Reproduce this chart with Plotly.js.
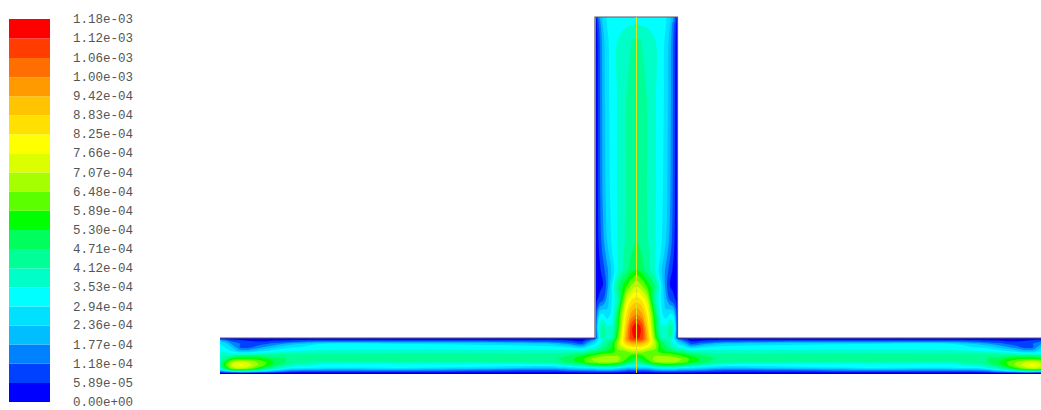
<!DOCTYPE html>
<html><head><meta charset="utf-8">
<script src="https://cdn.plot.ly/plotly-3.0.1.min.js"></script>
<style>html,body{margin:0;padding:0;background:#fff}#c{width:1041px;height:410px}</style></head>
<body><div id="c"></div>
<script>
// legend, top to bottom
const legendLabels=["1.18e-03","1.12e-03","1.06e-03","1.00e-03","9.42e-04","8.83e-04","8.25e-04","7.66e-04","7.07e-04","6.48e-04","5.89e-04","5.30e-04","4.71e-04","4.12e-04","3.53e-04","2.94e-04","2.36e-04","1.77e-04","1.18e-04","5.89e-05","0.00e+00"];
const bandColors=["#ff0000","#ff3d00","#ff6e00","#ff9b00","#ffc400","#ffe000","#ffff00","#dcff00","#a5ff00","#5cff00","#00ff00","#00ff5c","#00ff96","#00ffc8","#00ffff","#00e1ff","#00beff","#0082ff","#0040ff","#0000ff"];

// field values in units of 1e-4; the picture is mirror-symmetric about the centre line
const centreX=636.5;
// riser (vertical leg): columns from the left wall to the centre
const riserX=[595.5,597,600,603,607,612,618,626,631,636.5];
const riserY=[17,25,40,100,200,240,255,270,285,300,315,328,338];
const riserRows=[
[0,.9,1.9,2.6,3.0,3.2,3.3,3.4,3.42,3.45],
[0,.6,1.5,2.4,2.95,3.15,3.3,3.45,3.5,3.58],
[0,.45,1.25,2.1,2.85,3.15,3.55,3.95,4.1,4.2],
[0,.4,1.18,2.0,2.75,3.2,3.6,4.12,4.3,4.4],
[0,.35,1.1,1.85,2.6,3.15,3.6,4.12,4.4,4.6],
[0,.3,.9,1.6,2.35,3.05,3.6,4.2,4.5,4.75],
[0,.3,.7,1.3,2.0,2.9,3.6,4.35,4.7,5.0],
[0,.3,.5,.9,1.6,2.5,3.6,4.5,5.0,5.4],
[0,.2,.4,.55,1.4,3.0,4.6,5.7,6.4,6.9],
[0,.55,.8,1.1,2.0,3.0,4.2,7.2,8.2,8.6],
[0,1.6,3.0,3.1,2.6,3.2,5.2,8.3,9.6,10.2],
[0,2.4,3.9,4.4,3.8,3.7,5.6,9.0,11.0,11.8],
[0,1.8,3.5,4.2,4.0,4.0,6.1,9.5,11.0,11.4]];
// main channel (horizontal leg): profiles from top wall to bottom wall
const channelY=[338,339.5,341.5,344,347,351,355,359,362,365,368,370,372,373];
const channelX=[220,222,226,232,240,248,256,265,275,290,320,400,545,560,570,582,590,595.5,597,600,603,607,612,618,626,631,636.5];
const channelCols=[
[0,1.5,2.6,3.0,3.2,3.4,3.6,3.6,3.8,3.8,3.5,2.6,1.0,0],
[0,1.2,2.3,2.8,3.1,3.5,3.8,4.2,4.6,4.8,4.4,3.2,1.1,0],
[0,.9,1.9,2.6,2.8,3.3,3.9,4.7,5.6,6.0,5.3,3.9,1.6,0],
[0,.6,1.2,1.7,2.3,2.9,3.9,5.6,6.9,7.2,6.8,5.1,2.0,0],
[0,.5,.9,1.2,1.1,2.1,4.3,5.9,7.2,7.9,7.3,5.5,2.2,0],
[0,.4,.7,.9,.9,2.1,4.4,5.9,7.0,7.4,6.9,5.3,2.1,0],
[0,.3,.6,.9,1.3,2.5,4.4,5.8,6.5,6.7,6.0,4.5,1.9,0],
[0,.3,.6,1.1,1.8,2.9,4.4,5.4,6.0,5.9,5.0,3.8,1.8,0],
[0,.35,.8,1.5,2.3,3.2,4.3,5.0,5.2,4.9,4.0,3.0,1.4,0],
[0,.4,1.0,2.1,2.8,3.5,4.4,4.6,4.5,4.0,3.2,2.0,.7,0],
[0,.5,1.4,3.0,3.2,3.65,4.4,4.55,4.15,3.35,2.9,1.7,.6,0],
[0,.5,1.4,3.0,3.25,3.75,4.45,4.5,4.12,3.4,2.94,1.77,.6,0],
[0,.5,1.2,2.6,3.1,3.7,4.5,4.6,4.3,3.3,2.2,1.2,.5,0],
[0,.45,1.0,2.1,3.0,3.7,4.6,4.75,4.5,3.5,2.4,1.4,.5,0],
[0,.4,.8,1.7,2.8,3.8,4.7,5.1,5.0,3.9,2.6,1.6,.6,0],
[0,.3,.6,1.2,2.4,3.8,5.2,5.7,5.6,4.4,2.8,1.7,.7,0],
[0,.9,1.7,2.4,3.2,4.3,5.6,6.4,6.3,4.9,3.0,1.8,.7,0],
[0,1.9,2.5,3.0,3.5,4.5,5.9,6.7,6.5,5.1,3.1,1.9,.8,0],
[1.8,2.6,2.9,3.2,3.7,4.7,6.0,6.8,6.6,5.2,3.2,2.0,.8,0],
[3.5,3.4,3.4,3.6,4.0,4.9,6.1,6.95,6.7,5.3,3.2,2.0,.8,0],
[4.2,4.0,4.0,4.1,4.4,5.1,6.2,7.0,6.7,5.3,3.2,2.0,.8,0],
[4.0,4.1,4.4,4.6,4.8,5.3,6.3,7.05,6.7,5.3,3.2,2.0,.8,0],
[4.0,4.3,4.9,5.2,5.3,5.5,6.3,7.0,6.6,5.2,3.2,2.0,.8,0],
[6.1,6.4,6.7,6.8,6.7,6.3,6.4,6.7,6.4,4.9,3.0,1.8,.7,0],
[9.5,9.5,9.1,8.6,7.7,6.5,6.0,5.9,5.4,3.9,2.4,1.4,.5,0],
[11.0,10.6,9.9,9.1,8.2,6.9,5.9,5.4,4.9,3.7,2.4,1.3,.5,0],
[11.4,11.0,10.2,9.3,8.3,7.0,5.7,5.0,4.2,3.4,2.4,1.3,.5,0]];
// outline of the geometry
const wallX=[220,595,595,677.5,677.5,1041], wallY=[338,338,17,17,338,338];
const floorX=[220,1041], floorY=[373.5,373.5];

const mirrorAxis=a=>a.concat(a.slice(0,-1).reverse().map(v=>2*centreX-v));
const mirrorRow=r=>r.concat(r.slice(0,-1).reverse());
const legendValues=legendLabels.map(s=>parseFloat(s));
const ascending=legendValues.slice().reverse();
const step=0.589, n=bandColors.length;
const bands=bandColors.slice().reverse();
// the contour fill samples the scale exactly at k/(n-1), so one stop per band gives the exact colour
const scale=bands.map((c,j)=>[j/(n-1),c]);

const contourStyle={type:'contour',colorscale:scale,showscale:false,hoverinfo:'skip',autocontour:false,
  contours:{coloring:'fill',showlines:false,start:step,end:step*(n-1),size:step},line:{width:0},xaxis:'x',yaxis:'y'};

const traces=[
 Object.assign({},contourStyle,{x:mirrorAxis(riserX),y:riserY,z:riserRows.map(mirrorRow)}),
 Object.assign({},contourStyle,{x:mirrorAxis(channelX),y:channelY,
   z:channelY.map((_,i)=>mirrorRow(channelCols.map(c=>c[i])))}),
 {type:'scatter',mode:'lines',x:wallX,y:wallY,line:{color:'#5a5a6a',width:1.2},hoverinfo:'skip',xaxis:'x',yaxis:'y'},
 {type:'scatter',mode:'lines',x:floorX,y:floorY,line:{color:'#00003c',width:1.2},hoverinfo:'skip',xaxis:'x',yaxis:'y'},
 {type:'scatter',mode:'lines',x:[centreX,centreX],y:[17,373],line:{color:'#dfe21a',width:1},hoverinfo:'skip',xaxis:'x',yaxis:'y'},
 {type:'bar',x:bands.map(()=>0.5),width:1,base:ascending.slice(0,-1),y:ascending.slice(1).map((v,i)=>v-ascending[i]),
  marker:{color:bands,line:{width:0}},hoverinfo:'skip',xaxis:'x2',yaxis:'y2'}
];
const W=1041,H=410;
const layout={width:W,height:H,margin:{l:0,r:0,t:0,b:0},showlegend:false,paper_bgcolor:'#fff',plot_bgcolor:'rgba(0,0,0,0)',
 barmode:'overlay',
 xaxis:{domain:[0,1],range:[0,W],visible:false,fixedrange:true},
 yaxis:{domain:[0,1],range:[H,0],visible:false,fixedrange:true},
 xaxis2:{domain:[9/W,50/W],range:[0,1],visible:false,anchor:'y2'},
 yaxis2:{domain:[8/H,391/H],range:[0,1.18e-3],anchor:'x2',visible:false},
 annotations:legendLabels.map((t,i)=>({text:t,xref:'paper',x:72/W,xanchor:'left',yref:'y2',y:legendValues[i],yanchor:'middle',yshift:-1,
   showarrow:false,borderpad:0,font:{family:'"Liberation Mono",monospace',size:12.5,color:'#555'}}))
};
Plotly.newPlot('c',traces,layout,{staticPlot:true,displayModeBar:false});
</script></body></html>
